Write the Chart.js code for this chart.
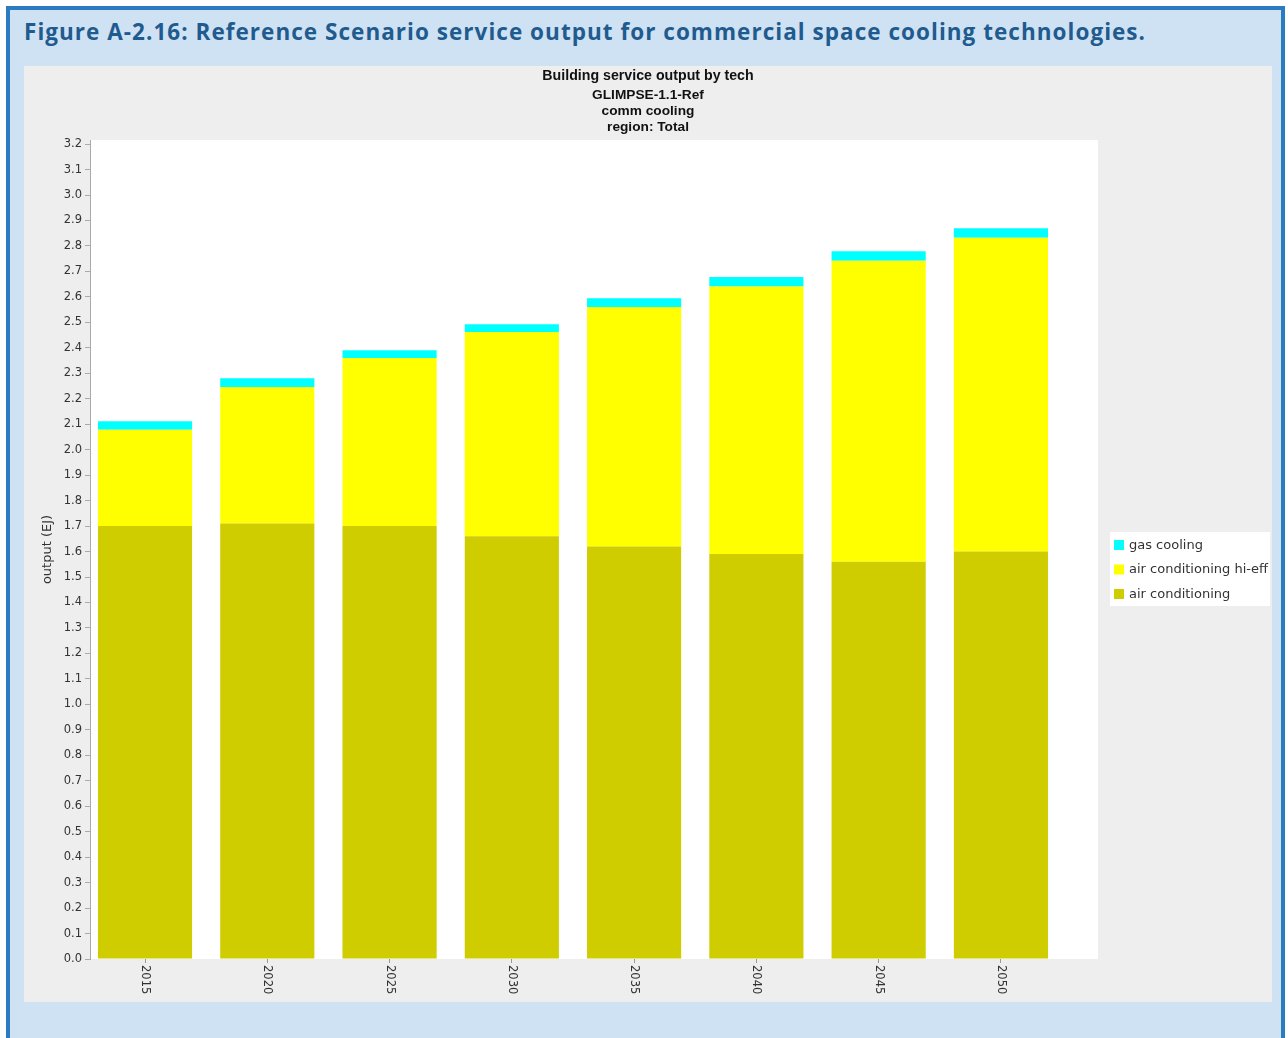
<!DOCTYPE html>
<html>
<head>
<meta charset="utf-8">
<title>Commercial space cooling service output</title>
<script src="https://cdn.jsdelivr.net/npm/chart.js"></script>
<style>
  body { margin: 0; background: #fff; width: 1288px; height: 1038px; overflow: hidden; position: relative; }
  #frame { position: absolute; left: 6px; top: 6px; width: 1271px; height: 1040px;
           border: 4px solid #2b7bc0; border-bottom: none; background: #cfe2f3; }
  #heading { position: absolute; left: 24px; top: 16.5px; font: 700 22.5px "Open Sans"; line-height: 30px;
             color: #1f5b8f; white-space: nowrap; }
  #panel { position: absolute; left: 24px; top: 66px; width: 1248px; height: 936px; background: #eeeeee; }
</style>
</head>
<body>
<div id="frame"></div>
<div id="heading">Figure A-2.16: Reference Scenario service output for commercial space cooling technologies.</div>
<div id="panel"><canvas id="coolingChart" width="1248" height="936"></canvas></div>
<script>
/* ---------- data (EJ) ---------- */
const years = [2015, 2020, 2025, 2030, 2035, 2040, 2045, 2050];
const airCond      = [1.70, 1.71, 1.70, 1.66, 1.62, 1.59, 1.56, 1.60];
const airCondHiEff = [0.378, 0.536, 0.66, 0.802, 0.94, 1.051, 1.182, 1.232];
const gasCooling   = [0.034, 0.035, 0.031, 0.031, 0.035, 0.037, 0.037, 0.038];
const seriesNames  = ['air conditioning', 'air conditioning hi-eff', 'gas cooling'];
const seriesColors = ['#cfcd00', '#ffff00', '#00ffff'];
const yTicks       = [0, 0.1, 0.2, 0.3, 0.4, 0.5, 0.6, 0.7, 0.8, 0.9, 1.0, 1.1, 1.2, 1.3, 1.4, 1.5, 1.6,
                      1.7, 1.8, 1.9, 2.0, 2.1, 2.2, 2.3, 2.4, 2.5, 2.6, 2.7, 2.8, 2.9, 3.0, 3.1, 3.2];
const chartTitle   = 'Building service output by tech';
const chartSubs    = ['GLIMPSE-1.1-Ref', 'comm cooling', 'region: Total'];

/* stretch the heading so it runs the same width as the panel text block */
const heading = document.getElementById('heading');
const headingW = heading.getBoundingClientRect().width;
heading.style.letterSpacing = ((1121 - headingW) / (heading.textContent.length - 1)) + 'px';

const toPoints = (vals) => years.map((yr, i) => ({ x: yr, y: vals[i] }));

/* white plotting area on the grey panel */
const plotBackground = {
  id: 'plotBackground',
  beforeDraw(chart) {
    const { ctx, chartArea: a } = chart;
    ctx.save();
    ctx.fillStyle = '#ffffff';
    ctx.fillRect(a.left, a.top, a.right - a.left, a.bottom - a.top);
    ctx.restore();
  }
};

/* year labels, turned to read top to bottom */
const yearLabels = {
  id: 'yearLabels',
  afterDraw(chart) {
    const { ctx, chartArea: a } = chart;
    const xs = chart.scales.x;
    ctx.save();
    ctx.font = '11.5px "DejaVu Sans"';
    ctx.fillStyle = '#333';
    ctx.textAlign = 'left';
    ctx.textBaseline = 'middle';
    years.forEach(yr => {
      ctx.save();
      ctx.translate(xs.getPixelForValue(yr), a.bottom + 6);
      ctx.rotate(Math.PI / 2);
      ctx.fillText(String(yr), 0, 0);
      ctx.restore();
    });
    ctx.restore();
  }
};

/* legend box to the right, top series first */
const sideLegend = {
  id: 'sideLegend',
  afterDraw(chart) {
    const { ctx, chartArea: a } = chart;
    const rowH = 24.5;
    const boxW = 160, boxH = 74;
    const left = a.right + 12;
    const top = (a.top + chart.height) / 2 - boxH / 2 - 2;
    ctx.save();
    ctx.fillStyle = '#ffffff';
    ctx.fillRect(left, top, boxW, boxH);
    ctx.font = '13px "DejaVu Sans"';
    ctx.textBaseline = 'middle';
    chart.data.datasets.slice().reverse().forEach((ds, i) => {
      const cy = top + 13 + i * rowH;
      ctx.fillStyle = ds.backgroundColor;
      ctx.fillRect(left + 4, cy - 5, 10, 10);
      ctx.fillStyle = '#333';
      ctx.fillText(ds.label, left + 19, cy + 0.5);
    });
    ctx.restore();
  }
};

const tickFont = { family: 'DejaVu Sans', size: 11.5 };

new Chart(document.getElementById('coolingChart'), {
  type: 'bar',
  plugins: [plotBackground, yearLabels, sideLegend],
  data: {
    datasets: [
      { label: seriesNames[0], data: toPoints(airCond),      backgroundColor: seriesColors[0], yAxisID: 'y' },
      { label: seriesNames[1], data: toPoints(airCondHiEff), backgroundColor: seriesColors[1], yAxisID: 'y' },
      { label: seriesNames[2], data: toPoints(gasCooling),   backgroundColor: seriesColors[2], yAxisID: 'y' }
    ]
  },
  options: {
    responsive: false,
    animation: false,
    barPercentage: 0.77,
    categoryPercentage: 1,
    layout: { padding: 0 },
    plugins: {
      legend: { display: false },
      tooltip: { enabled: false },
      title: {
        display: true, text: chartTitle, color: '#111',
        font: { family: 'Liberation Sans', size: 14.2, weight: 'bold' },
        padding: { top: 2, bottom: 2 }
      },
      subtitle: {
        display: true, text: chartSubs, color: '#111',
        font: { family: 'Liberation Sans', size: 13.7, weight: 'bold', lineHeight: 16 / 13.7 },
        padding: { top: 0, bottom: 5 }
      }
    },
    scales: {
      x: {
        type: 'linear',
        stacked: true,
        offset: false,
        min: 2012.75,
        max: 2053.97,
        border: { display: false },
        grid: { drawOnChartArea: false, offset: false, tickLength: 4, color: '#999' },
        ticks: { display: false, stepSize: 5 },
        afterBuildTicks: (s) => { s.ticks = years.map(v => ({ value: v })); },
        afterFit: (s) => { s.height = 43; }
      },
      y: {
        stacked: true,
        min: 0,
        max: 3.216,
        border: { display: true, color: '#aaa' },
        grid: { drawOnChartArea: false, tickLength: 5, color: '#aaa' },
        ticks: {
          autoSkip: false, padding: 3,
          color: '#333', font: tickFont,
          callback: (v) => v.toFixed(1)
        },
        afterBuildTicks: (s) => { s.ticks = yTicks.map(v => ({ value: v })); },
        title: {
          display: true, text: 'output (EJ)', color: '#333',
          font: { family: 'DejaVu Sans', size: 13 },
          padding: { top: 16, bottom: 4 }
        },
        afterFit: (s) => { s.width = 66; }
      },
      // empty right-hand strip that leaves room for the legend box
      legendSpace: {
        type: 'linear',
        position: 'right',
        grid: { display: false },
        border: { display: false },
        ticks: { display: false },
        afterFit: (s) => { s.width = 174; }
      }
    }
  }
});
</script>
</body>
</html>
